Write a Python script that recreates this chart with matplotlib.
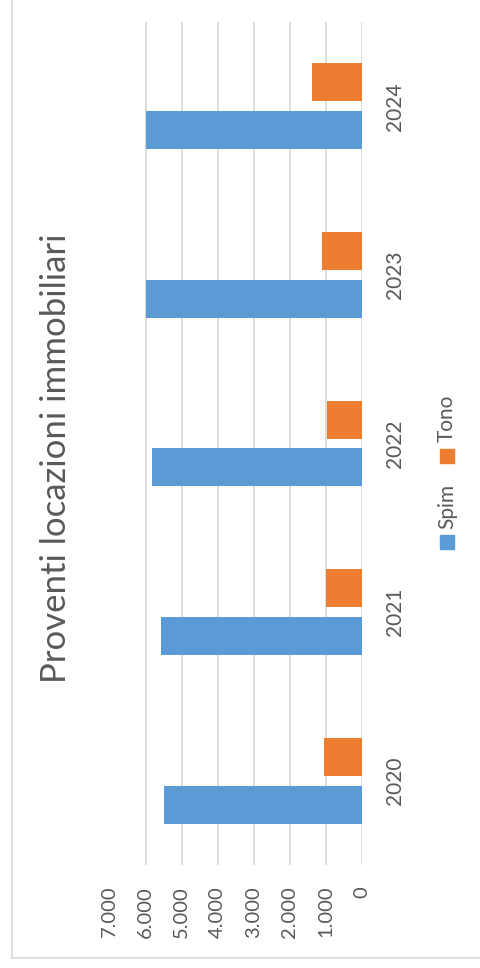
import matplotlib
matplotlib.use("Agg")
import matplotlib.pyplot as plt
from matplotlib.lines import Line2D
from matplotlib.patches import Rectangle
import numpy as np

plt.rcParams['font.family'] = ['Lato', 'DejaVu Sans']

categories = ["2020", "2021", "2022", "2023", "2024"]
spim = [5485, 5580, 5830, 5990, 6000]
tono = [1045, 1000, 970, 1115, 1395]
value_ticks = [0, 1000, 2000, 3000, 4000, 5000, 6000, 7000]
value_tick_labels = ["0", "1.000", "2.000", "3.000", "4.000", "5.000", "6.000", "7.000"]
series_names = ["Spim", "Tono"]
title = "Proventi locazioni immobiliari"

W, H = 481, 968
DPI = 100
BLUE = "#5B9BD5"
ORANGE = "#ED7D31"
GRID = "#D9D9D9"
TXT = "#595959"

fig = plt.figure(figsize=(W / DPI, H / DPI), dpi=DPI)

def px(x, y):
    return x / W, 1 - y / H

ax_left, ax_right, ax_top, ax_bottom = 109.5, 362.0, 22.0, 865.0
ax = fig.add_axes([ax_left / W, 1 - ax_bottom / H, (ax_right - ax_left) / W, (ax_bottom - ax_top) / H])

pos = np.arange(len(categories))
bar_h = 0.225
off = 0.142
ax.barh(pos - off, spim, height=bar_h, color=BLUE, edgecolor="none", zorder=3)
ax.barh(pos + off, tono, height=bar_h, color=ORANGE, edgecolor="none", zorder=3)

ax.set_xlim(7000, 0)
ax.set_ylim(-0.5, len(categories) - 0.5)
ax.set_xticks(value_ticks)
ax.set_xticklabels(value_tick_labels)
ax.set_yticks(pos)
ax.set_yticklabels(categories)
ax.yaxis.tick_right()
ax.grid(axis="x", color=GRID, linewidth=1.3, zorder=0)
for s in ax.spines.values():
    s.set_visible(False)
ax.tick_params(axis="x", length=0, pad=15, labelsize=14.5, labelcolor=TXT)
ax.tick_params(axis="y", length=0, pad=16.5, labelsize=15, labelcolor=TXT)
for lbl in ax.get_xticklabels():
    lbl.set_rotation(90)
    lbl.set_ha("center")
    lbl.set_va("top")
for lbl in ax.get_yticklabels():
    lbl.set_rotation(90)
    lbl.set_ha("left")
    lbl.set_va("center")

# title
fig.text(*px(56, 458), title, rotation=90, ha="center", va="center", fontsize=25, color=TXT)

# legend (manual, rotated)
sq = 14
for name, color, sq_y, txt_y in [(series_names[0], BLUE, 535, 506), (series_names[1], ORANGE, 449, 418)]:
    x0, y0 = px(440, sq_y + sq)
    fig.patches.append(Rectangle((x0, y0), sq / W, sq / H, transform=fig.transFigure, color=color))
    fig.text(*px(447, txt_y), name, rotation=90, ha="center", va="center", fontsize=15, color=TXT)

# chart border
fig.add_artist(Line2D([11.5 / W, 11.5 / W], [1, 1 - 958 / H], transform=fig.transFigure, color=GRID, linewidth=1.2))
fig.add_artist(Line2D([11.5 / W, 1], [1 - 958 / H, 1 - 958 / H], transform=fig.transFigure, color=GRID, linewidth=1.2))

fig.savefig("out.png", dpi=DPI)
